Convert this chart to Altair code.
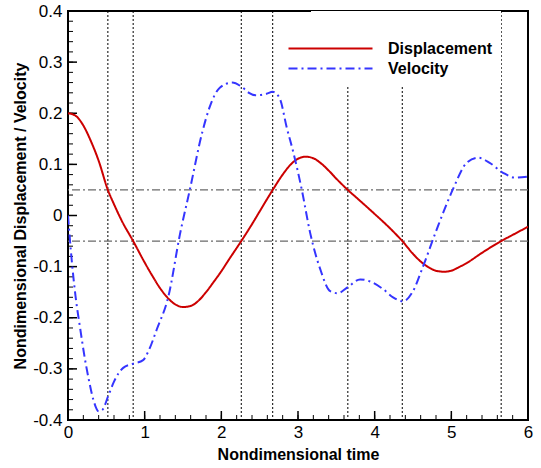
import altair as alt
import pandas as pd

t_disp = [0.0, 0.1, 0.2, 0.3, 0.4, 0.52, 0.6, 0.7, 0.85, 1.0, 1.1, 1.2, 1.3, 1.4, 1.5, 1.6, 1.7, 1.8, 1.9,
          2.0, 2.1, 2.26, 2.4, 2.5, 2.67, 2.8, 2.9, 3.0, 3.1, 3.2, 3.3, 3.4, 3.5, 3.65, 3.8, 4.0, 4.2, 4.36,
          4.5, 4.6, 4.7, 4.8, 4.9, 5.0, 5.1, 5.2, 5.4, 5.65, 5.8, 6.0]
displacement = [0.200, 0.195, 0.176, 0.145, 0.107, 0.050, 0.022, -0.010, -0.050, -0.092, -0.118, -0.142,
                -0.161, -0.174, -0.179, -0.177, -0.167, -0.150, -0.130, -0.109, -0.086, -0.050, -0.017,
                0.008, 0.050, 0.080, 0.099, 0.111, 0.115, 0.112, 0.102, 0.088, 0.072, 0.050, 0.030, 0.003,
                -0.025, -0.050, -0.075, -0.090, -0.101, -0.108, -0.110, -0.108, -0.101, -0.093, -0.073,
                -0.050, -0.038, -0.022]

t_vel = [0.0, 0.05, 0.1, 0.16, 0.22, 0.27, 0.33, 0.4, 0.45, 0.52, 0.6, 0.72, 0.85, 0.98, 1.05, 1.16, 1.31,
         1.46, 1.59, 1.75, 1.85, 1.98, 2.14, 2.28, 2.36, 2.45, 2.59, 2.67, 2.72, 2.77, 2.85, 2.94, 3.05,
         3.16, 3.29, 3.42, 3.52, 3.65, 3.81, 3.94, 4.11, 4.24, 4.37, 4.5, 4.63, 4.81, 5.02, 5.2, 5.35,
         5.5, 5.67, 5.83, 6.0]
velocity = [0.000, -0.090, -0.160, -0.222, -0.280, -0.320, -0.360, -0.383, -0.380, -0.355, -0.325, -0.298,
            -0.290, -0.283, -0.265, -0.222, -0.158, -0.037, 0.051, 0.162, 0.213, 0.250, 0.260, 0.250,
            0.240, 0.235, 0.238, 0.242, 0.238, 0.226, 0.174, 0.123, 0.050, -0.035, -0.105, -0.148,
            -0.152, -0.140, -0.125, -0.129, -0.144, -0.160, -0.168, -0.148, -0.100, -0.027, 0.051,
            0.103, 0.113, 0.103, 0.084, 0.074, 0.076]

series_names = ["Displacement", "Velocity"]
threshold_levels = [0.05, -0.05]
crossing_times = [0.52, 0.85, 2.26, 2.67, 3.65, 4.36, 5.65]

x_major = [0, 1, 2, 3, 4, 5, 6]
x_minor = [round(i * 0.2, 1) for i in range(31)]
y_major = [-0.4, -0.3, -0.2, -0.1, 0.0, 0.1, 0.2, 0.3, 0.4]
y_minor = [round(-0.4 + i * 0.02, 2) for i in range(41)]

df = pd.concat([
    pd.DataFrame({"t": t_disp, "value": displacement, "series": series_names[0], "order": range(len(t_disp))}),
    pd.DataFrame({"t": t_vel, "value": velocity, "series": series_names[1], "order": range(len(t_vel))}),
])
df_h = pd.DataFrame({"y": threshold_levels})
df_v = pd.DataFrame({"x": crossing_times})

FONT = "Liberation Sans"
W, H = 460, 409
MAJ = 9
MIN = 5

xscale = alt.Scale(domain=[0, 6], nice=False, zero=False)
yscale = alt.Scale(domain=[-0.4, 0.4], nice=False, zero=False)

x_axis = alt.Axis(values=x_major, ticks=False, domain=False, grid=False,
                  labelPadding=4, labelFontSize=17, labelFont=FONT, labelColor="black",
                  labelFlush=False, labelOverlap=False,
                  title="Nondimensional time", titleFont=FONT, titleFontSize=16,
                  titleFontWeight="bold", titleColor="black", titlePadding=6, orient="bottom")
y_axis = alt.Axis(values=y_major, ticks=False, domain=False, grid=False,
                  labelPadding=6, labelFontSize=17, labelFont=FONT, labelColor="black",
                  labelFlush=False, labelOverlap=False,
                  labelExpr="datum.value == 0 ? '0' : toString(round(datum.value*10)/10)",
                  title="Nondimensional Displacement / Velocity", titleFont=FONT, titleFontSize=16,
                  titleFontWeight="bold", titleColor="black", titlePadding=4, orient="left")

vrules = alt.Chart(df_v).mark_rule(color="black", strokeWidth=1, strokeDash=[2, 2]).encode(
    x=alt.X("x:Q", scale=xscale, axis=x_axis)
)
hrules = alt.Chart(df_h).mark_rule(color="#6a6a6a", strokeWidth=1.2, strokeDash=[8, 3, 2, 3]).encode(
    y=alt.Y("y:Q", scale=yscale, axis=y_axis)
)

# inward tick marks along the left and bottom edges
def xticks(vals, size, width):
    return alt.Chart(pd.DataFrame({"v": vals})).mark_rule(color="black", strokeWidth=width).encode(
        x=alt.X("v:Q", scale=xscale, axis=None), y=alt.value(H), y2=alt.value(H - size))

def yticks(vals, size, width):
    return alt.Chart(pd.DataFrame({"v": vals})).mark_rule(color="black", strokeWidth=width).encode(
        y=alt.Y("v:Q", scale=yscale, axis=None), x=alt.value(0), x2=alt.value(size))

lines = alt.Chart(df).mark_line(strokeWidth=2, interpolate="monotone", clip=True).encode(
    x=alt.X("t:Q", scale=xscale, axis=None),
    y=alt.Y("value:Q", scale=yscale, axis=None),
    order="order:Q",
    color=alt.Color("series:N", scale=alt.Scale(domain=series_names, range=["#cc0000", "#3535ff"]),
                    legend=alt.Legend(title=" ", titleFontSize=18, titlePadding=0,
                                      orient="none", legendX=243, legendY=0,
                                      direction="vertical", symbolType="M-4,0H4", symbolSize=441,
                                      symbolStrokeWidth=2, labelOffset=46, labelFont=FONT,
                                      labelFontSize=16, labelFontWeight="bold", labelColor="black",
                                      rowPadding=0, fillColor="white", padding=8)),
    strokeDash=alt.StrokeDash("series:N", scale=alt.Scale(domain=series_names, range=[[1, 0], [9, 4, 2, 4]]),
                              legend=None),
)

chart = alt.layer(
    vrules, hrules,
    xticks(x_minor, MIN, 1), xticks(x_major, MAJ, 1.5),
    yticks(y_minor, MIN, 1), yticks(y_major, MAJ, 1.5),
    lines,
).resolve_axis(x="independent", y="independent").properties(
    width=W, height=H,
    background="white",
    autosize=alt.AutoSizeParams(type="none"),
    padding={"left": 68, "top": 11, "right": 13, "bottom": 48},
).configure_view(stroke="black", strokeWidth=2)

chart.save("out.html", embed_options={"renderer": "svg", "actions": False})
